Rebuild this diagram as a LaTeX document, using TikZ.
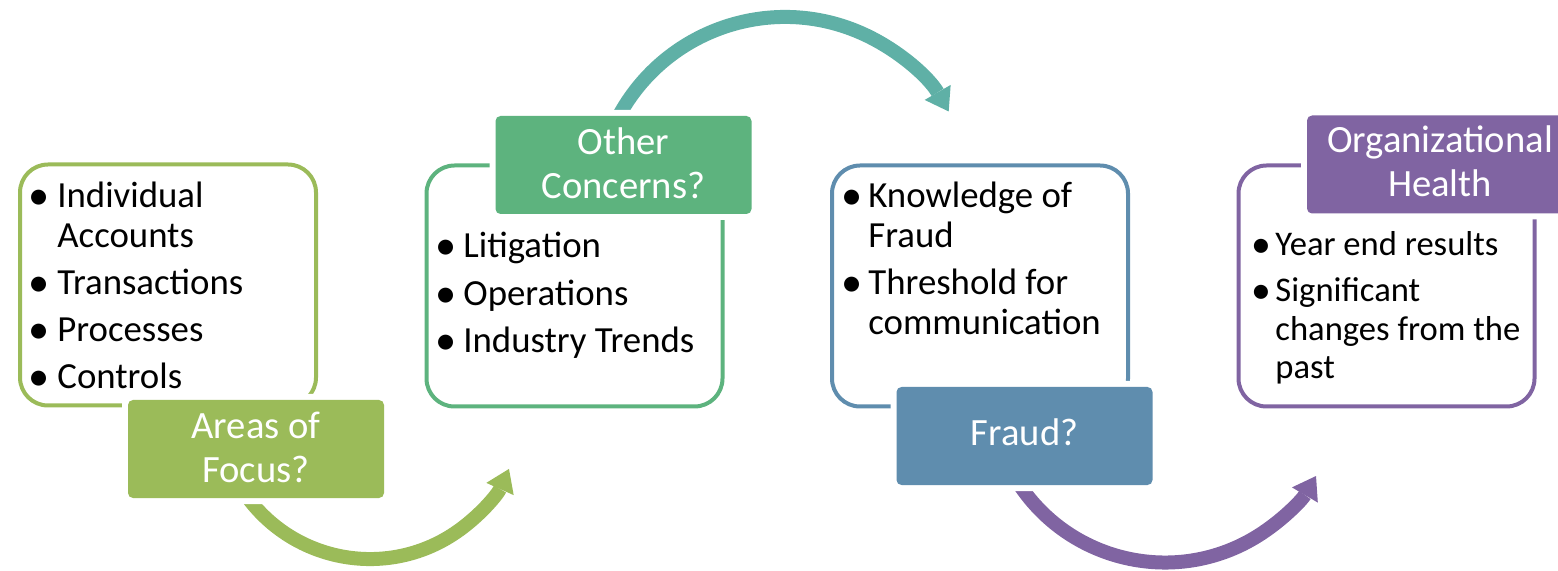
\documentclass[tikz,border=0pt]{standalone}
\usepackage{fontspec}
\usepackage{graphicx}
\setmainfont{Carlito}
\usetikzlibrary{arrows.meta}
\definecolor{cA}{HTML}{9BBB59}
\definecolor{cB}{HTML}{5DB37E}
\definecolor{cT}{HTML}{5FB0A6}
\definecolor{cC}{HTML}{5F8DAE}
\definecolor{cD}{HTML}{8064A2}
\newcommand{\itm}[1][8pt]{\llap{\makebox[0pt]{\raisebox{-0.8pt}{\scalebox{1.15}{\textbullet}}}\hspace{#1}}}
\newcommand{\lns}[1]{\begin{tabular}[t]{@{}l@{}}#1\end{tabular}}
\newcommand{\clns}[1]{\begin{tabular}[t]{@{}c@{}}#1\end{tabular}}
\begin{document}
\begin{tikzpicture}[x=0.5pt,y=-0.5pt,
  outline/.style={draw=#1, line width=2pt, rounded corners=14pt, minimum width=148pt, minimum height=120.5pt, inner sep=0pt},
  lbl/.style={fill=#1, rounded corners=2.5pt, minimum width=128pt, minimum height=49pt, inner sep=0pt, text=white, font=\fontsize{19.3pt}{22pt}\selectfont, preaction={draw=white, line width=6pt}},
  body/.style={anchor=base west, inner sep=0pt, font=\fontsize{18.4pt}{20pt}\selectfont},
  smallbody/.style={anchor=base west, inner sep=0pt, font=\fontsize{17.3pt}{19.25pt}\selectfont},
  flow/.style={draw=#1, line width=7pt, -{Triangle[width=15pt,length=11pt,line width=0pt]}}
]
\useasboundingbox (0,0) rectangle (1558,571);
% outlines
\node[outline=cA] (o1) at (168,285) {};
\node[outline=cB] (o2) at (574.5,286) {};
\node[outline=cC] (o3) at (980,286) {};
\node[outline=cD] (o4) at (1386.5,286) {};
% body text
\node[body] (t1a) at (57,208) {\itm[9pt]\lns{Individual\\Accounts}};
\node[body] (t1b) at (57,295) {\itm[9pt]Transactions};
\node[body] (t1c) at (57,342) {\itm[9pt]Processes};
\node[body] (t1d) at (57,389) {\itm[9pt]Controls};
\node[body] (t2a) at (463,258) {\itm[8.5pt]Litigation};
\node[body] (t2b) at (463,306) {\itm[8.5pt]Operations};
\node[body] (t2c) at (463,353) {\itm[8.5pt]Industry Trends};
\node[body] (t3a) at (868,208) {\itm[8pt]\lns{Knowledge of\\Fraud}};
\node[body] (t3b) at (868,295) {\itm[8pt]\lns{Threshold for\\communication}};
\node[smallbody] (t4a) at (1275,256) {\itm[7pt]Year end results};
\node[smallbody] (t4b) at (1275,302) {\itm[7pt]\lns{Significant\\changes from the\\past}};
% arrows
\coordinate (a1s) at (243.7,491.9);
\coordinate (a2s) at (613.7,126.1);
\coordinate (a3s) at (1016.5,480.2);
\begin{scope}
\clip (0,504) -- (330,504) -- (330,0) -- (1558,0) -- (1558,571) -- (0,571) -- cycle;
\draw[flow=cA] (a1s) arc[start angle=146, end angle=24.1, radius=152.3];
\end{scope}
\begin{scope}
\clip (0,0) -- (1558,0) -- (1558,571) -- (700,571) -- (700,110) -- (0,110) -- cycle;
\draw[flow=cT] (a2s) arc[start angle=205, end angle=330, radius=189];
\end{scope}
\begin{scope}
\clip (0,491) -- (1170,491) -- (1170,0) -- (1558,0) -- (1558,571) -- (0,571) -- cycle;
\draw[flow=cD] (a3s) arc[start angle=148, end angle=30.4, radius=175.1];
\end{scope}
% labels
\node[lbl=cA, text height=0pt, text depth=11pt] (l1) at (256,449) {\clns{Areas of\\Focus?}};
\node[lbl=cB, text height=0pt, text depth=10pt] (l2) at (623.5,165) {\clns{Other\\Concerns?}};
\node[lbl=cC, text height=9pt, text depth=0pt] (l3) at (1024.5,436) {Fraud?};
\node[lbl=cD, minimum width=133pt, text height=0pt, text depth=11.5pt] (l4) at (1440,164.5) {\clns{Organizational\\Health}};
\end{tikzpicture}
\end{document}
